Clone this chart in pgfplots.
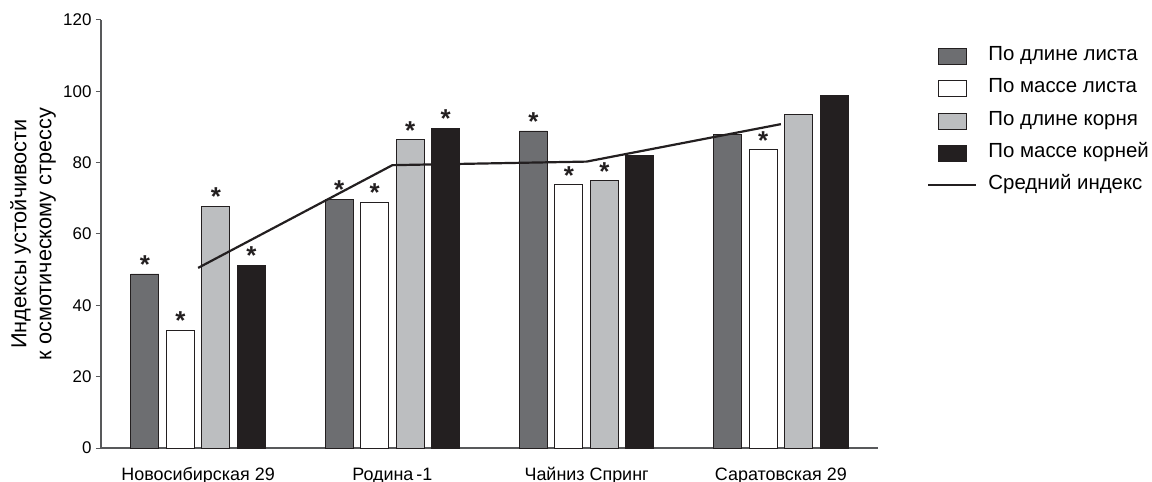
\documentclass[border=0pt]{standalone}
\usepackage{pgfplots}
\pgfplotsset{compat=1.18}
\usepackage{fontspec}
\setmainfont{Liberation Sans}
\definecolor{cdark}{HTML}{6D6E71}
\definecolor{clight}{HTML}{BCBEC0}
\definecolor{cblack}{HTML}{231F20}
\definecolor{caxis}{HTML}{58595B}
\pgfplotsset{
  barleg/.style={legend image code/.code={\draw[##1] (10bp,-8bp) rectangle (38bp,8bp);}},
  lineleg/.style={legend image code/.code={\draw[##1] (0bp,0bp) -- (48bp,0bp);}},
  mybar/.style={ybar, bar width=28bp, bar shift=#1, draw=cblack, line width=0.8bp, barleg,
    point meta=explicit symbolic, nodes near coords,
    every node near coord/.append style={font=\fontsize{26}{26}\selectfont\bfseries, anchor=south,
      inner sep=0pt, xshift=#1, yshift=0bp, text=cblack}},
}
\begin{document}
\begin{tikzpicture}
\begin{axis}[
  at={(0,0)}, anchor=south west,
  scale only axis, width=777bp, height=428bp,
  xmin=-0.5, xmax=3.5, ymin=0, ymax=120,
  axis lines*=left,
  axis line style={caxis, line width=1.4bp},
  ytick={0,20,...,120},
  xtick={0,1,2,3},
  xticklabels={Новосибирская 29, Родина\,-1, Чайниз Спринг, Саратовская 29},
  major x tick style={draw=none},
  tick align=outside,
  major tick length=5bp,
  y tick style={caxis, line width=1bp},
  /pgf/number format/assume math mode=true,
  yticklabel style={font=\fontsize{17}{20}\selectfont, xshift=-1bp},
  xticklabel style={font=\fontsize{18}{22}\selectfont, anchor=base, yshift=-27bp},
  ylabel={Индексы устойчивости\\к осмотическому стрессу},
  ylabel style={font=\fontsize{21.8}{25}\selectfont, align=center, at={(axis description cs:-0.0875,0.5)}, anchor=center},
  legend cell align=left,
  legend style={draw=none, fill=none, inner sep=0pt, at={(826bp,400bp)}, anchor=north west,
    font=\fontsize{20.5}{22}\selectfont, row sep=15.5bp,
    nodes={text height=12bp, text depth=4bp, inner sep=0pt},
    /tikz/every odd column/.append style={column sep=11bp}},
]
\addplot[mybar=-53.25bp, fill=cdark]
  coordinates {(0,48.8) [*] (1,69.8) [*] (2,88.9) [*] (3,88.0) []};
\addlegendentry{По длине листа}
\addplot[mybar=-17.75bp, fill=white]
  coordinates {(0,33.1) [*] (1,68.9) [*] (2,73.9) [*] (3,83.7) [*]};
\addlegendentry{По массе листа}
\addplot[mybar=17.75bp, fill=clight]
  coordinates {(0,67.8) [*] (1,86.5) [*] (2,74.9) [*] (3,93.5) []};
\addlegendentry{По длине корня}
\addplot[mybar=53.25bp, fill=cblack]
  coordinates {(0,51.3) [*] (1,89.7) [*] (2,82.1) [] (3,98.8) []};
\addlegendentry{По массе корней}
\addplot[sharp plot, cblack, line width=2.2bp, no marks, lineleg]
  coordinates {(0,50.5) (1,79.3) (2,80.3) (3,90.8)};
\addlegendentry{Средний индекс}
\end{axis}
\pgfresetboundingbox
\path (-101bp,-34bp) rectangle (1051bp,448bp);
\end{tikzpicture}
\end{document}
